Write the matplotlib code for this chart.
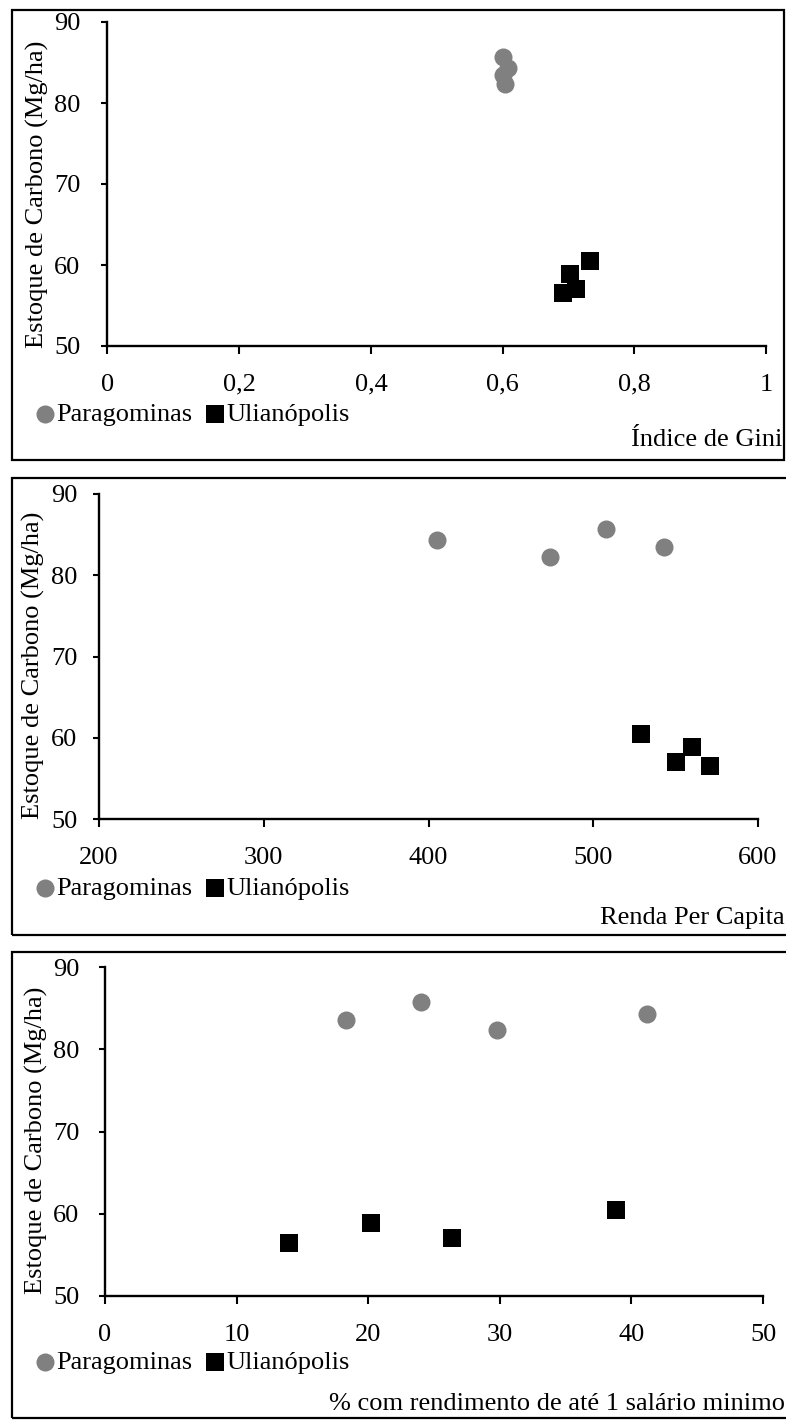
import matplotlib
matplotlib.use("Agg")
import matplotlib.pyplot as plt
from matplotlib.patches import Rectangle

# carbon stock (Mg/ha), one value per observation
carbono_parag = [85.7, 84.3, 83.5, 82.3]
carbono_ulian = [60.5, 58.9, 57.0, 56.5]

# Gini index
gini_parag = [0.601, 0.608, 0.600, 0.604]
gini_ulian = [0.733, 0.702, 0.712, 0.692]

# per capita income
renda_parag = [508, 405, 543, 474]
renda_ulian = [529, 560, 550, 571]

# % with income up to 1 minimum wage
pct_parag = [24.0, 41.2, 18.3, 29.8]
pct_ulian = [38.8, 20.2, 26.4, 14.0]

x_ticks_gini = [0, 0.2, 0.4, 0.6, 0.8, 1]
x_labels_gini = ["0", "0,2", "0,4", "0,6", "0,8", "1"]
x_ticks_renda = [200, 300, 400, 500, 600]
x_ticks_pct = [0, 10, 20, 30, 40, 50]
y_ticks = [50, 60, 70, 80, 90]

W, H = 786, 1420
plt.rcParams["font.family"] = ["Liberation Serif", "DejaVu Serif"]
FS = 19

fig = plt.figure(figsize=(W / 100, H / 100), dpi=100)


def fx(px):
    return px / W


def fy(py):
    return 1 - py / H


panels = [
    # axes box px (left, right, top, bottom), frame box, text rows, x data
    dict(ax=(107.5, 766, 22, 346), box=(12, 10, 784, 460), leg=414, xl=440, xr=782,
         xp=gini_parag, xu=gini_ulian, xlim=(0, 1), xt=x_ticks_gini, xtl=x_labels_gini,
         xlabel="Índice de Gini", ylab=194, ylx=37, ypad=15),
    dict(ax=(99, 758, 494, 819), box=(12, 478, 800, 935), leg=888, xl=918, xr=785,
         xp=renda_parag, xu=renda_ulian, xlim=(200, 600), xt=x_ticks_renda,
         xtl=[str(v) for v in x_ticks_renda], xlabel="Renda Per Capita", ylab=665,
         ylx=33, ypad=11),
    dict(ax=(105, 763, 967, 1296), box=(12, 952, 800, 1418), leg=1362, xl=1404, xr=785,
         xp=pct_parag, xu=pct_ulian, xlim=(0, 50), xt=x_ticks_pct,
         xtl=[str(v) for v in x_ticks_pct], xlabel="% com rendimento de até 1 salário minimo",
         ylab=1140, ylx=36, ypad=14),
]

for p in panels:
    l, r, t, b = p["ax"]
    ax = fig.add_axes([fx(l), fy(b), (r - l) / W, (b - t) / H])
    sc1 = ax.scatter(p["xp"], carbono_parag, s=13 ** 2, marker="o", color="#808080",
                     linewidths=0, label="Paragominas", clip_on=False, zorder=3)
    sc2 = ax.scatter(p["xu"], carbono_ulian, s=13 ** 2, marker="s", color="black",
                     linewidths=0, label="Ulianópolis", clip_on=False, zorder=3)
    ax.set_xlim(*p["xlim"])
    ax.set_ylim(50, 90)
    ax.set_xticks(p["xt"])
    ax.set_xticklabels(p["xtl"])
    ax.set_yticks(y_ticks)
    for s in ["top", "right"]:
        ax.spines[s].set_visible(False)
    for s in ["left", "bottom"]:
        ax.spines[s].set_linewidth(1.7)
    ax.tick_params(axis="x", direction="out", length=6, width=1.5, pad=14, labelsize=FS)
    ax.tick_params(axis="y", direction="out", length=4.5, width=1.5, pad=p["ypad"],
                   labelsize=FS)
    ax.patch.set_alpha(0)

    fig.text(fx(p["ylx"]), fy(p["ylab"]), "Estoque de Carbono (Mg/ha)", rotation=90,
             ha="center", va="center", fontsize=FS)

    ax.legend(handles=[sc1, sc2], loc="center left", ncol=2, frameon=False,
              bbox_to_anchor=(fx(35), fy(p["leg"])), bbox_transform=fig.transFigure,
              borderpad=0, borderaxespad=0, handletextpad=0.05, columnspacing=0.5,
              handlelength=0.75, markerscale=1.0, fontsize=FS)

    fig.text(fx(p["xr"]), fy(p["xl"]), p["xlabel"], ha="right", va="center", fontsize=FS)

    bx0, by0, bx1, by1 = p["box"]
    fig.patches.append(Rectangle((fx(bx0), fy(by1)), (bx1 - bx0) / W, (by1 - by0) / H,
                                 transform=fig.transFigure, fill=False,
                                 edgecolor="black", linewidth=1.6))

fig.savefig("out.png", dpi=100)
